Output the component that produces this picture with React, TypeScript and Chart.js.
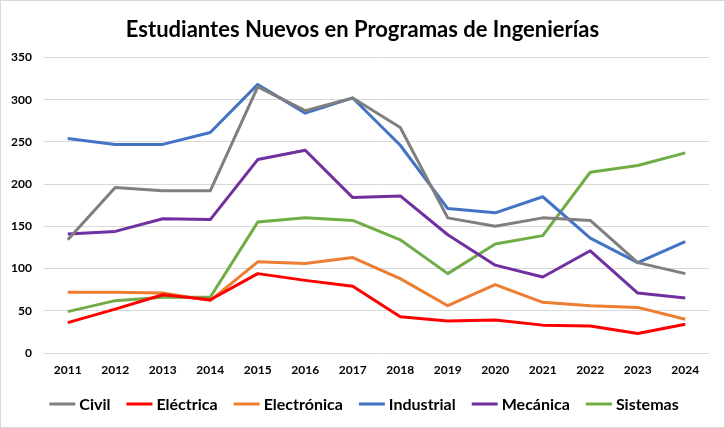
import React, { useEffect, useRef } from "react";
import { Chart, registerables } from "chart.js";

Chart.register(...registerables);

const years = ["2011","2012","2013","2014","2015","2016","2017","2018","2019","2020","2021","2022","2023","2024"];
const civil = [134, 196, 192, 192, 315, 287, 302, 267, 160, 150, 160, 157, 107, 94];
const electrica = [36, 52, 69, 63, 94, 86, 79, 43, 38, 39, 33, 32, 23, 34];
const electronica = [72, 72, 71, 62, 108, 106, 113, 88, 56, 81, 60, 56, 54, 40];
const industrial = [254, 247, 247, 261, 318, 284, 302, 246, 171, 166, 185, 136, 107, 132];
const mecanica = [141, 144, 159, 158, 229, 240, 184, 186, 140, 104, 90, 121, 71, 65];
const sistemas = [49, 62, 66, 66, 155, 160, 157, 134, 94, 129, 139, 214, 222, 237];
const yTicks = [0, 50, 100, 150, 200, 250, 300, 350];

const seriesNames = ["Civil", "Eléctrica", "Electrónica", "Industrial", "Mecánica", "Sistemas"];
const seriesColors = ["#7f7f7f", "#ff0000", "#ed7d31", "#4472c4", "#7030a0", "#70ad47"];
const seriesData = [civil, electrica, electronica, industrial, mecanica, sistemas];

const LEGEND_FONT = "bold 16px Lato";
const LEGEND_CENTER_X = 364;
const LEGEND_Y = 404;
const MARKER_W = 26;
const MARKER_GAP = 4;
const ITEM_GAP = 16;

const extrasPlugin = {
  id: "extras",
  afterLayout(chart: any) {
    const tb = chart.titleBlock;
    if (tb) { tb.left += 8; tb.right += 8; }
  },
  afterDraw(chart: any) {
    const ctx = chart.ctx;
    ctx.save();
    // custom legend
    ctx.font = LEGEND_FONT;
    const ds = chart.data.datasets;
    const widths = ds.map((d: any) => ctx.measureText(d.label).width);
    const total = widths.reduce((a: number, w: number) => a + MARKER_W + MARKER_GAP + w, 0) + ITEM_GAP * (ds.length - 1);
    let x = LEGEND_CENTER_X - total / 2;
    ctx.textBaseline = "middle";
    ctx.textAlign = "left";
    ds.forEach((d: any, i: number) => {
      ctx.fillStyle = d.borderColor;
      ctx.fillRect(x, LEGEND_Y - 1.5, MARKER_W, 3);
      ctx.fillStyle = "#000000";
      ctx.fillText(d.label, x + MARKER_W + MARKER_GAP, LEGEND_Y + 1);
      x += MARKER_W + MARKER_GAP + widths[i] + ITEM_GAP;
    });
    // outer border
    ctx.strokeStyle = "#d9d9d9";
    ctx.lineWidth = 1;
    ctx.strokeRect(0.5, 0.5, chart.width - 1, chart.height - 1);
    ctx.restore();
  },
};

export default function App() {
  const ref = useRef<HTMLCanvasElement | null>(null);
  useEffect(() => {
    document.body.style.margin = "0";
    const canvas = ref.current!;
    const chart = new Chart(canvas, {
      type: "line",
      data: {
        labels: years,
        datasets: seriesData.map((d, i) => ({
          label: seriesNames[i],
          data: d,
          borderColor: seriesColors[i],
          backgroundColor: seriesColors[i],
          borderWidth: 3,
          pointRadius: 0,
          pointHoverRadius: 0,
          tension: 0,
          borderJoinStyle: "round" as const,
        })),
      },
      options: {
        animation: false,
        responsive: false,
        maintainAspectRatio: false,
        layout: { padding: { left: 0, right: 16, top: 13, bottom: 45 } },
        plugins: {
          title: {
            display: true,
            text: "Estudiantes Nuevos en Programas de Ingenierías",
            color: "#000000",
            font: { family: "Lato", size: 22, weight: "bold" },
            padding: { top: 4, bottom: 14 },
          },
          legend: { display: false },
          tooltip: { enabled: false },
        },
        scales: {
          x: {
            offset: true,
            afterFit(scale: any) { scale.height = 30; },
            grid: { display: false },
            border: { display: false },
            ticks: {
              color: "#000000",
              font: { family: "Lato", size: 12, weight: "bold" },
              padding: 2,
              maxRotation: 0,
              autoSkip: false,
            },
          },
          y: {
            min: 0,
            max: 350,
            afterFit(scale: any) { scale.width = 44; },
            afterBuildTicks(scale: any) { scale.ticks = yTicks.map((v) => ({ value: v })); },
            grid: { color: "#d9d9d9", lineWidth: 1, drawTicks: false },
            border: { display: false },
            ticks: {
              color: "#000000",
              font: { family: "Lato", size: 12, weight: "bold" },
              padding: 12,
            },
          },
        },
      },
      plugins: [extrasPlugin],
    });
    return () => chart.destroy();
  }, []);
  return <canvas ref={ref} width={725} height={428} style={{ display: "block" }} />;
}
